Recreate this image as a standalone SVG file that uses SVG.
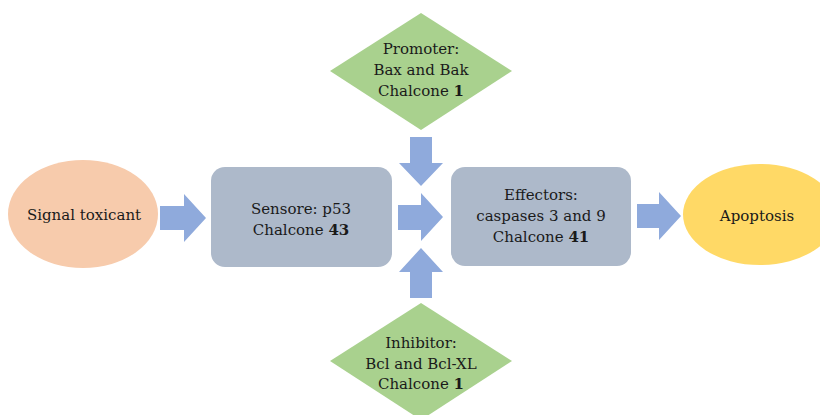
<svg xmlns="http://www.w3.org/2000/svg" width="820" height="415" viewBox="0 0 820 415">
<style>
text{font-family:'DejaVu Serif',serif;font-size:15px;fill:#1a1a1a;text-anchor:middle}
.b{font-weight:bold}
.arrow{fill:#8FAADC}
.box{fill:#ADB9CA}
.dia{fill:#A9D18E}
</style>
<rect width="820" height="415" fill="#ffffff"/>
<g id="connectors">
<polygon class="arrow" points="160,206 184,206 184,194 206,218 184,242 184,230 160,230"/>
<polygon class="arrow" points="398,205 421,205 421,193 443,217 421,241 421,230 398,230"/>
<polygon class="arrow" points="410,137 432,137 432,163 443,163 421,186 399,163 410,163"/>
<polygon class="arrow" points="410,298 432,298 432,272 443,272 421,248 399,272 410,272"/>
<polygon class="arrow" points="637,204 659,204 659,192 681,216 659,240 659,228 637,228"/>
</g>
<g id="signal">
<ellipse cx="83" cy="214" rx="75" ry="54" fill="#F7CBAC"/>
<text x="84" y="220">Signal toxicant</text>
</g>
<g id="sensor">
<rect class="box" x="211" y="167" width="181" height="100" rx="14"/>
<text x="301" y="214">Sensore: p53</text>
<text x="301" y="235">Chalcone <tspan class="b">43</tspan></text>
</g>
<g id="promoter">
<polygon class="dia" points="421,13 512,71 421,130 330,71"/>
<text x="421" y="54">Promoter:</text>
<text x="421" y="75">Bax and Bak</text>
<text x="421" y="96">Chalcone <tspan class="b">1</tspan></text>
</g>
<g id="inhibitor">
<polygon class="dia" points="421,303 512,361 421,420 330,361"/>
<text x="421" y="348">Inhibitor:</text>
<text x="421" y="369">Bcl and Bcl-XL</text>
<text x="421" y="389">Chalcone <tspan class="b">1</tspan></text>
</g>
<g id="effectors">
<rect class="box" x="451" y="167" width="180" height="99" rx="14"/>
<text x="541" y="200">Effectors:</text>
<text x="541" y="221">caspases 3 and 9</text>
<text x="541" y="242">Chalcone <tspan class="b">41</tspan></text>
</g>
<g id="apoptosis">
<ellipse cx="760" cy="214.5" rx="77" ry="50.5" fill="#FFD966"/>
<text x="757" y="221">Apoptosis</text>
</g>
</svg>
